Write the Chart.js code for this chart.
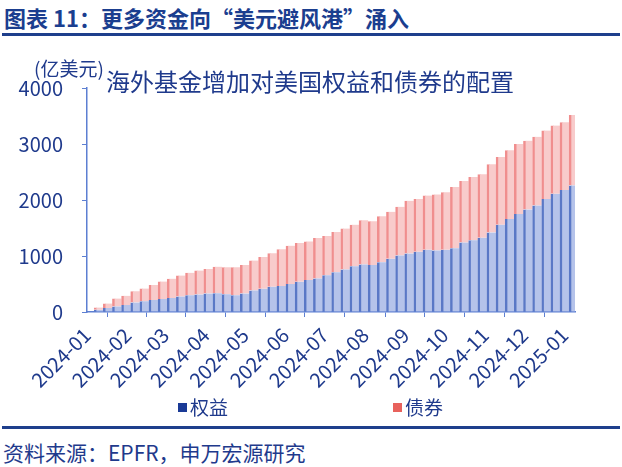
<!DOCTYPE html>
<html>
<head>
<meta charset="utf-8">
<script src="https://cdn.jsdelivr.net/npm/chart.js@4.4.1/dist/chart.umd.min.js"></script>
<style>
  body { margin: 0; background: #fff; font-family: 'Noto Sans CJK SC', 'Noto Sans', sans-serif; }
  #wrap { position: relative; width: 622px; height: 467px; overflow: hidden; }
  .txt { position: absolute; white-space: nowrap; line-height: 1; color: #1f3a8c; }
  #title { left: 4px; top: 6px; font-size: 22px; font-weight: bold; color: #1b3e8f; }
  .rule { position: absolute; left: 2px; width: 618px; height: 3px; background: #1e3f8c; }
  #chartBox { position: absolute; left: 0; top: 40px; }
  #unit { left: 34px; top: 58px; font-size: 19px; }
  #sub { left: 106px; top: 69px; font-size: 24px; }
  #source { left: 3px; top: 442px; font-size: 21px; }
  .leg { position: absolute; top: 397px; font-size: 19px; line-height: 1; color: #1f3a8c; white-space: nowrap; }
  .leg i { display: inline-block; width: 9px; height: 9px; margin-right: 3px; vertical-align: 3px; }
</style>
</head>
<body>
<div id="wrap">
  <div id="title" class="txt">图表 11：更多资金向“美元避风港”涌入</div>
  <div class="rule" style="top:33px"></div>
  <div id="chartBox"><canvas id="chart" width="622" height="355"></canvas></div>
  <div id="unit" class="txt">(亿美元)</div>
  <div id="sub" class="txt">海外基金增加对美国权益和债券的配置</div>
  <div id="legend"></div>
  <div class="rule" style="top:426px"></div>
  <div id="source" class="txt">资料来源：EPFR，申万宏源研究</div>
</div>
<script>
// 周度数据（累计流入，亿美元）
const semanas = [
  '2024-01-10','2024-01-17','2024-01-24','2024-01-31','2024-02-07','2024-02-14','2024-02-21','2024-02-28',
  '2024-03-06','2024-03-13','2024-03-20','2024-03-27','2024-04-03','2024-04-10','2024-04-17','2024-04-24',
  '2024-05-01','2024-05-08','2024-05-15','2024-05-22','2024-05-29','2024-06-05','2024-06-12','2024-06-19',
  '2024-06-26','2024-07-03','2024-07-10','2024-07-17','2024-07-24','2024-07-31','2024-08-07','2024-08-14',
  '2024-08-21','2024-08-28','2024-09-04','2024-09-11','2024-09-18','2024-09-25','2024-10-02','2024-10-09',
  '2024-10-16','2024-10-23','2024-10-30','2024-11-06','2024-11-13','2024-11-20','2024-11-27','2024-12-04',
  '2024-12-11','2024-12-18','2024-12-25','2025-01-01','2025-01-08'
];

const equity = [
  40, 70, 100, 125, 170, 190, 215, 230, 250, 275, 300, 312, 330, 335, 315, 300,
  330, 385, 415, 450, 465, 500, 540, 570, 600, 655, 710, 760, 815, 850, 840, 890,
  950, 1010, 1045, 1075, 1110, 1100, 1110, 1140, 1240, 1280, 1325, 1420, 1560, 1660,
  1750, 1830, 1900, 2020, 2110, 2180, 2260
];

const bonds = [
  40, 80, 140, 165, 200, 230, 265, 315, 345, 375, 400, 428, 440, 475, 485, 500,
  510, 535, 565, 600, 655, 685, 690, 690, 720, 700, 720, 730, 745, 790, 780, 820,
  840, 870, 940, 945, 970, 1000, 1030, 1090, 1100, 1130, 1135, 1220, 1210, 1230,
  1250, 1230, 1230, 1220, 1220, 1210, 1260
];

const mesesLabels = ['2024-01','2024-02','2024-03','2024-04','2024-05','2024-06','2024-07',
  '2024-08','2024-09','2024-10','2024-11','2024-12','2025-01'];
const yTicks = [0, 1000, 2000, 3000, 4000];

const SERIES = [
  { label: '权益', data: equity, fill: '#b5c3ea', stripe: '#5a78c6', key: '#1a3a96' },
  { label: '债券', data: bonds, fill: '#f8cbcb', stripe: '#f08e8e', key: '#e8625c' }
];

const DAY = 86400000;
const origen = Date.UTC(2024, 0, 1);
function diaDe(str) {
  const p = str.split('-').map(Number);
  return (Date.UTC(p[0], p[1] - 1, p[2] || 1) - origen) / DAY;
}
const mesesDias = mesesLabels.map(diaDe);

const axisColor = '#5d7fd2';
const textColor = '#1f3a8c';
const fontFam = "'Noto Sans CJK SC', 'Noto Sans', sans-serif";

// leyenda en HTML
const legendPos = [178, 393];
const legend = document.getElementById('legend');
SERIES.forEach((s, i) => {
  const el = document.createElement('div');
  el.className = 'leg';
  el.style.left = legendPos[i] + 'px';
  el.innerHTML = `<i style="background:${s.key}"></i>${s.label}`;
  legend.appendChild(el);
});

new Chart(document.getElementById('chart').getContext('2d'), {
  type: 'bar',
  data: {
    datasets: SERIES.map(s => ({
      label: s.label,
      data: s.data.map((v, i) => ({ x: diaDe(semanas[i]), y: v })),
      backgroundColor: s.fill,
      borderColor: s.stripe,
      borderWidth: { left: 2.5, right: 0, top: 0, bottom: 0 },
      borderSkipped: false,
      barPercentage: 1,
      categoryPercentage: 1
    }))
  },
  options: {
    responsive: false,
    animation: false,
    layout: { padding: { top: 48, right: 47, left: 0, bottom: 0 } },
    plugins: { legend: { display: false }, tooltip: { enabled: false } },
    scales: {
      x: {
        type: 'linear',
        stacked: true,
        min: 0,
        max: 374,
        offset: false,
        afterBuildTicks: axis => { axis.ticks = mesesDias.map(v => ({ value: v })); },
        afterFit: axis => { axis.height = 83; },
        grid: { drawOnChartArea: false, tickLength: 5, color: axisColor },
        border: { color: axisColor, width: 1.5 },
        ticks: {
          autoSkip: false,
          maxRotation: 45,
          minRotation: 45,
          padding: 6,
          color: textColor,
          font: { family: fontFam, size: 20 },
          callback: v => mesesLabels[mesesDias.indexOf(v)] || ''
        }
      },
      y: {
        stacked: true,
        min: 0,
        max: 4000,
        afterBuildTicks: axis => { axis.ticks = yTicks.map(v => ({ value: v })); },
        afterFit: axis => { axis.width = 87; },
        grid: { drawOnChartArea: false, tickLength: 5, color: axisColor },
        border: { color: axisColor, width: 1.5 },
        ticks: {
          padding: 19,
          color: textColor,
          font: { family: fontFam, size: 20 },
          callback: v => String(v)
        }
      }
    }
  }
});
</script>
</body>
</html>
